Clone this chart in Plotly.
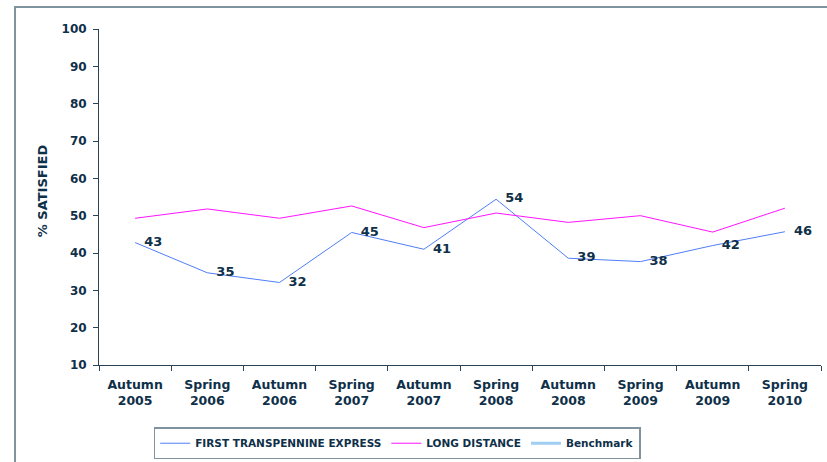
import plotly.graph_objects as go

categories = ["Autumn<br>2005", "Spring<br>2006", "Autumn<br>2006", "Spring<br>2007", "Autumn<br>2007",
              "Spring<br>2008", "Autumn<br>2008", "Spring<br>2009", "Autumn<br>2009", "Spring<br>2010"]
tpe_values = [42.8, 34.7, 32.1, 45.5, 41.0, 54.4, 38.6, 37.7, 42.0, 45.7]
tpe_labels = ["43", "35", "32", "45", "41", "54", "39", "38", "42", "46"]
long_distance = [49.3, 51.8, 49.3, 52.6, 46.8, 50.7, 48.2, 50.0, 45.6, 52.0]
benchmark = [None] * 10
y_ticks = [10, 20, 30, 40, 50, 60, 70, 80, 90, 100]

TXT = "#0f3049"
FONT = "DejaVu Sans"

fig = go.Figure()
fig.add_trace(go.Scatter(x=categories, y=tpe_values, mode="lines+text", name="FIRST TRANSPENNINE EXPRESS",
                         text=tpe_labels, texttemplate="\u00a0\u00a0%{text}", textposition="middle right",
                         textfont=dict(family=FONT, size=13, color=TXT, weight="bold"),
                         line=dict(color="#4f7ef7", width=1), cliponaxis=False))
fig.add_trace(go.Scatter(x=categories, y=long_distance, mode="lines", name="LONG DISTANCE",
                         line=dict(color="#ff14ff", width=1)))
fig.add_trace(go.Scatter(x=categories, y=benchmark, mode="lines", name="Benchmark",
                         line=dict(color="#9fcdf3", width=3)))

fig.update_layout(
    width=827, height=462,
    margin=dict(l=99, r=6, t=29, b=97, autoexpand=False),
    paper_bgcolor="white", plot_bgcolor="white",
    font=dict(family=FONT, size=12, color=TXT, weight="bold"),
    showlegend=True,
    legend=dict(orientation="h", x=0.413, xanchor="center", y=0.006, yanchor="bottom", yref="container",
                bordercolor="#7f939f", borderwidth=1.5, font=dict(size=10.5, weight="bold"),
                itemwidth=30, tracegroupgap=0),
    xaxis=dict(type="category", showgrid=False, showline=True, linecolor="#2a4357", linewidth=1,
               ticks="outside", tickson="boundaries", ticklen=5, tickcolor="#2a4357", automargin=False,
               ticklabelstandoff=8, tickfont=dict(size=12.5, weight="bold"), fixedrange=True),
    yaxis=dict(range=[10, 100], tickvals=y_ticks, showgrid=False, showline=True, linecolor="#2a4357",
               linewidth=1, ticks="outside", ticklen=5, tickcolor="#2a4357", zeroline=False, automargin=False,
               ticklabelstandoff=4, tickfont=dict(size=12, weight="bold"), fixedrange=True),
    annotations=[dict(text="% SATISFIED", xref="paper", yref="paper", x=-0.079, y=0.52,
                      textangle=-90, showarrow=False, font=dict(size=13, weight="bold", color=TXT),
                      xanchor="center", yanchor="middle")],
    shapes=[dict(type="rect", xref="paper", yref="paper", x0=-0.1163, x1=1.02, y0=-0.35, y1=1.0655,
                 line=dict(color="#7f939f", width=2), layer="below")],
)

fig.write_html("out.html", config={"displayModeBar": False},
               post_script="document.body.style.margin='0';")
